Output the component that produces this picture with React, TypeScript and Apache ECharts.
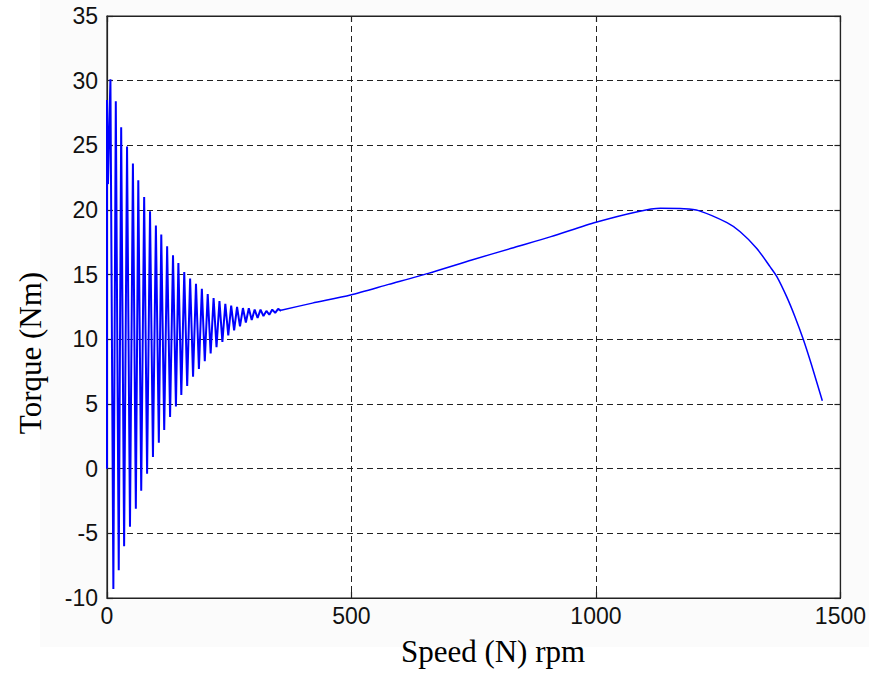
import React, { useEffect, useRef } from "react";
import * as echarts from "echarts";

// Start-up transient (speed rpm, torque Nm)
const startSpeed = [0, 0, 2];
const startTorque = [0, 28.5, 22];

// Oscillation peaks
const peakSpeed = [7, 18, 29, 41, 53, 64, 76, 88, 100, 111, 123, 135, 146, 158, 170, 182, 194, 206, 218, 230, 242, 254, 266, 278, 290, 302, 314, 326, 338, 350];
const peakTorque = [30.1, 28.4, 26.4, 24.9, 23.6, 22.3, 21.0, 19.9, 18.8, 18.1, 17.2, 16.5, 15.9, 15.2, 14.7, 14.3, 13.9, 13.5, 13.2, 12.95, 12.75, 12.6, 12.5, 12.42, 12.4, 12.3, 12.3, 12.2, 12.3, 12.35];

// Oscillation troughs
const troughSpeed = [13, 24, 35, 47, 59, 70, 82, 94, 106, 117, 129, 141, 152, 164, 176, 188, 200, 212, 224, 236, 248, 260, 272, 284, 296, 308, 320, 332, 344, 356];
const troughTorque = [-9.3, -7.85, -6.0, -4.5, -3.1, -1.7, -0.4, 0.9, 2.0, 3.0, 4.0, 4.8, 5.7, 6.4, 7.1, 7.7, 8.3, 8.9, 9.4, 9.8, 10.3, 10.7, 11.0, 11.3, 11.5, 11.65, 11.8, 11.9, 12.05, 12.2];

// Steady acceleration part
const steadySpeed = [356, 420, 498, 576, 657, 746, 827, 908, 1000, 1085, 1132, 1180, 1210, 1268, 1295, 1329, 1356, 1370, 1390, 1407, 1424, 1441, 1463];
const steadyTorque = [12.25, 12.8, 13.43, 14.25, 15.1, 16.13, 17.04, 17.94, 19.05, 19.87, 20.13, 20.1, 19.95, 19.02, 18.32, 17.03, 15.62, 14.85, 13.3, 11.75, 10.0, 8.01, 5.25];

const xMin = 0, xMax = 1500, xStep = 500;
const yMin = -10, yMax = 35, yStep = 5;

const xTitle = "Speed (N) rpm";
const yTitle = "Torque (Nm)";

function buildOscillation(): number[][] {
  const d: number[][] = [];
  startSpeed.forEach((s, i) => d.push([s, startTorque[i]]));
  peakSpeed.forEach((s, i) => {
    d.push([s, peakTorque[i]]);
    d.push([troughSpeed[i], troughTorque[i]]);
  });
  return d;
}

function buildSteady(): number[][] {
  return steadySpeed.map((s, i) => [s, steadyTorque[i]]);
}

export default function App() {
  const ref = useRef<HTMLDivElement>(null);
  useEffect(() => {
    if (!ref.current) return;
    const chart = echarts.init(ref.current, undefined, { renderer: "svg" });
    const tickFont = { fontFamily: "'Liberation Sans Narrow', 'Arial Narrow', 'Liberation Sans', sans-serif", fontSize: 23, color: "#111", formatter: (v: number) => String(v) };
    const grid = { left: 107, top: 16, width: 737, height: 582 };
    const gridLine = { show: true, lineStyle: { color: "#222", type: [6, 4] as any, width: 1 } };
    const axLine = { show: true, onZero: false, lineStyle: { color: "#222", width: 1.2 } };
    const tick = { show: true, inside: true, length: 6, lineStyle: { color: "#222", width: 1.2 } };
    const titleStyle = { fontSize: 31, fontFamily: "'Liberation Serif', serif", fill: "#000", align: "center", verticalAlign: "middle" };
    chart.setOption({
      animation: false,
      backgroundColor: "#ffffff",
      graphic: [
        { type: "rect", z: -10, shape: { x: 40, y: 0, width: 829, height: 647 }, style: { fill: "#fbfbfb" } },
        { type: "text", x: 30, y: 353, rotation: Math.PI / 2, style: { text: yTitle, ...titleStyle } },
        { type: "text", x: 493, y: 651, style: { text: xTitle, ...titleStyle } },
      ],
      grid: { ...grid, show: true, backgroundColor: "#ffffff", borderColor: "#222", borderWidth: 1.2 },
      xAxis: [
        {
          type: "value", min: xMin, max: xMax, interval: xStep,
          axisLine: axLine, axisTick: tick, splitLine: gridLine,
          axisLabel: { ...tickFont, margin: 6 },
        },
        {
          type: "value", position: "top", min: xMin, max: xMax, interval: xStep,
          axisLine: axLine, axisTick: tick, splitLine: { show: false }, axisLabel: { show: false },
        },
      ],
      yAxis: [
        {
          type: "value", min: yMin, max: yMax, interval: yStep,
          axisLine: axLine, axisTick: tick, splitLine: gridLine,
          axisLabel: { ...tickFont, margin: 9 },
        },
        {
          type: "value", position: "right", min: yMin, max: yMax, interval: yStep,
          axisLine: axLine, axisTick: tick, splitLine: { show: false }, axisLabel: { show: false },
        },
      ],
      series: [
        {
          type: "line",
          data: buildOscillation(),
          showSymbol: false,
          symbol: "none",
          lineStyle: { color: "#0000ff", width: 2 },
          z: 5,
        },
        {
          type: "line",
          data: buildSteady(),
          showSymbol: false,
          symbol: "none",
          smooth: 0.25,
          lineStyle: { color: "#0000ff", width: 1.5 },
          z: 5,
        },
      ],
    });
    return () => chart.dispose();
  }, []);
  return <div ref={ref} style={{ position: "absolute", left: 0, top: 0, width: 869, height: 698 }} />;
}
